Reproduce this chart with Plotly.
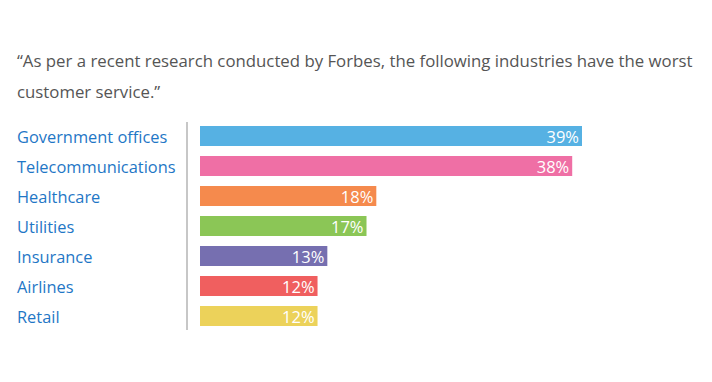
import plotly.graph_objects as go

categories = ["Government offices", "Telecommunications", "Healthcare", "Utilities",
              "Insurance", "Airlines", "Retail"]
values = [39, 38, 18, 17, 13, 12, 12]
value_labels = ["39%", "38%", "18%", "17%", "13%", "12%", "12%"]
colors = ["#56b1e3", "#ef6fa5", "#f58a4d", "#8bc656", "#766fb0", "#f05f5f", "#ecd25a"]
title_lines = ["\u201cAs per a recent research conducted by Forbes, the following industries have the worst",
               "customer service.\u201d"]

OFF = 8  # default page body margin
W, H = 712 - OFF, 382 - OFF
ml, mt = 200 - OFF, 121 - OFF
pw, ph = 382, 210
mr, mb = W - ml - pw, H - mt - ph

FONT = "Open Sans"


def px_x(p):
    return (p - OFF - ml) / pw


def px_y(p):
    return (mt + ph - (p - OFF)) / ph


fig = go.Figure(go.Bar(
    x=values, y=categories, orientation="h",
    marker=dict(color=colors, line=dict(width=0)),
    text=value_labels, textposition="inside", insidetextanchor="end",
    constraintext="none",
    textfont=dict(color="white", size=16.5, family=FONT),
    textangle=0, cliponaxis=False, hoverinfo="skip",
))

fig.update_layout(
    width=W, height=H, margin=dict(l=ml, r=mr, t=mt, b=mb, autoexpand=False),
    paper_bgcolor="white", plot_bgcolor="white",
    bargap=1/3, showlegend=False,
    xaxis=dict(range=[0, max(values)], visible=False, fixedrange=True),
    yaxis=dict(categoryorder="array", categoryarray=categories[::-1],
               showticklabels=False, showgrid=False, zeroline=False, showline=False),
    font=dict(family=FONT),
)

for cat in categories:
    fig.add_annotation(x=px_x(17), xref="paper", y=cat, yref="y",
                       text=cat, showarrow=False, xanchor="left", yanchor="middle",
                       xshift=-2, font=dict(size=16.4, color="#1f77c6", family=FONT))

for i, line in enumerate(title_lines):
    fig.add_annotation(x=px_x(17), xref="paper", y=px_y(61 + 30 * i), yref="paper",
                       text=line, showarrow=False, xanchor="left", yanchor="middle",
                       xshift=-2, font=dict(size=16.8, color="#555555", family=FONT))

fig.add_shape(type="line", xref="paper", yref="paper",
              x0=px_x(187), x1=px_x(187), y0=px_y(330), y1=px_y(122),
              line=dict(color="#b5b5b5", width=1.5))

fig.write_html("out.html")
